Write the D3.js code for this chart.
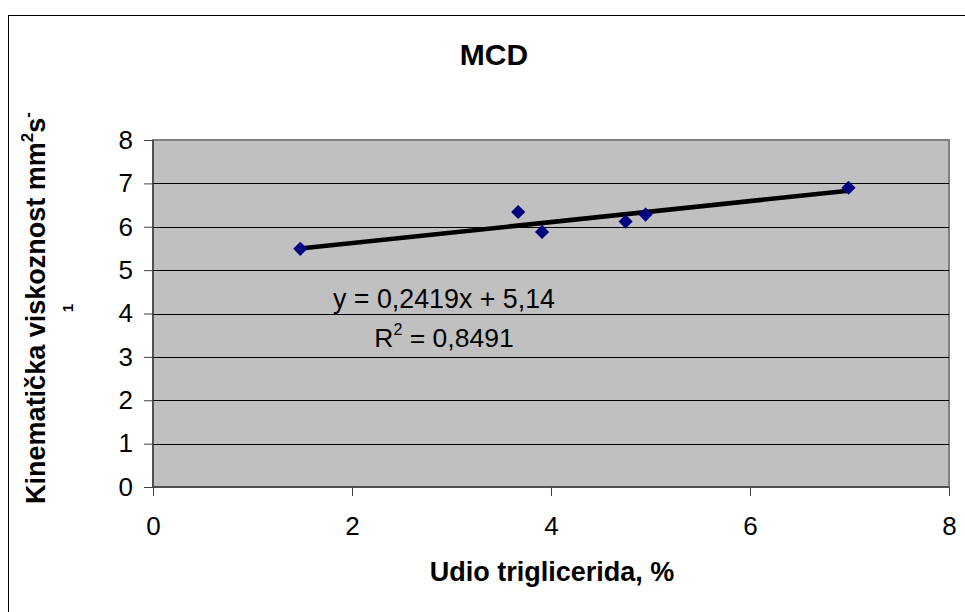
<!DOCTYPE html>
<html>
<head>
<meta charset="utf-8">
<script src="https://cdn.jsdelivr.net/npm/d3@7"></script>
<style>
  body { margin: 0; background: #fff; }
  text { font-family: "Liberation Sans", Arial, sans-serif; }
</style>
</head>
<body>
<svg width="965" height="612"></svg>
<script>
// data
var xVals = [1.48, 3.67, 3.91, 4.75, 4.95, 6.99];
var yVals = [5.49, 6.34, 5.88, 6.12, 6.28, 6.90];
var xTicks = [0, 2, 4, 6, 8];
var yTicks = [0, 1, 2, 3, 4, 5, 6, 7, 8];
var slope = 0.2419, intercept = 5.14;
var eqLines = ["y = 0,2419x + 5,14", "R", "2", " = 0,8491"];

var svg = d3.select("svg");

var margin = {left: 153, top: 140, right: 949, bottom: 487};

var x = d3.scaleLinear().domain([0, 8]).range([margin.left, margin.right]);
var y = d3.scaleLinear().domain([0, 8]).range([margin.bottom, margin.top]);

// chart area border
svg.append("rect")
  .attr("x", 8.5).attr("y", 15.5)
  .attr("width", 970).attr("height", 620)
  .attr("fill", "#fff").attr("stroke", "#000").attr("stroke-width", 1);

// plot area
svg.append("rect")
  .attr("x", x(0)).attr("y", y(8))
  .attr("width", x(8) - x(0)).attr("height", y(0) - y(8))
  .attr("fill", "#c0c0c0").attr("stroke", "#808080").attr("stroke-width", 2);

// gridlines
svg.append("g")
  .selectAll("line")
  .data(yTicks.filter(function(d) { return d > 0 && d < 8; }))
  .enter().append("line")
    .attr("x1", x(0)).attr("x2", x(8))
    .attr("y1", function(d) { return Math.round(y(d)) + 0.5; })
    .attr("y2", function(d) { return Math.round(y(d)) + 0.5; })
    .attr("stroke", "#000").attr("stroke-width", 1);

// axes
var yAxis = svg.append("g")
  .attr("transform", "translate(" + x(0) + ",0)")
  .call(d3.axisLeft(y).tickValues(yTicks).tickSize(9).tickPadding(11).tickFormat(d3.format("d")));
var xAxis = svg.append("g")
  .attr("transform", "translate(0," + y(0) + ")")
  .call(d3.axisBottom(x).tickValues(xTicks).tickSize(9).tickPadding(21).tickFormat(d3.format("d")));

[yAxis, xAxis].forEach(function(a) {
  a.select(".domain").attr("stroke", "#404040").attr("stroke-width", 1.5);
  a.selectAll(".tick line").attr("stroke", "#404040");
  a.selectAll(".tick text")
    .attr("font-family", "Liberation Sans, Arial, sans-serif")
    .attr("font-size", 26).attr("fill", "#000");
});
xAxis.select(".domain").attr("d", "M" + x(0) + ",0H" + x(8));
yAxis.select(".domain").attr("d", "M0," + y(0) + "V" + y(8));

// trend line
var x0 = d3.min(xVals), x1 = d3.max(xVals);
svg.append("line")
  .attr("x1", x(x0)).attr("y1", y(slope * x0 + intercept))
  .attr("x2", x(x1)).attr("y2", y(slope * x1 + intercept))
  .attr("stroke", "#000").attr("stroke-width", 4.5);

// markers
svg.append("g")
  .selectAll("path")
  .data(xVals)
  .enter().append("path")
    .attr("d", d3.symbol().type(d3.symbolDiamond2).size(128))
    .attr("transform", function(d, i) {
      return "translate(" + x(d) + "," + y(yVals[i]) + ")";
    })
    .attr("fill", "#000080");

// equation label
svg.append("text")
  .attr("x", 444).attr("y", 308)
  .attr("text-anchor", "middle").attr("font-size", 26.8)
  .text(eqLines[0]);
var r2 = svg.append("text")
  .attr("x", 444).attr("y", 347)
  .attr("text-anchor", "middle").attr("font-size", 26.5);
r2.append("tspan").text(eqLines[1]);
r2.append("tspan").attr("font-size", 16).attr("dy", -12).text(eqLines[2]);
r2.append("tspan").attr("dy", 12).text(eqLines[3]);

// title
svg.append("text")
  .attr("x", 494).attr("y", 65)
  .attr("text-anchor", "middle")
  .attr("font-size", 30).attr("font-weight", "bold")
  .text("MCD");

// x axis title
svg.append("text")
  .attr("x", 552).attr("y", 581)
  .attr("text-anchor", "middle")
  .attr("font-size", 27).attr("font-weight", "bold")
  .text("Udio triglicerida, %");

// y axis title (wrapped, two lines)
var yt = svg.append("text")
  .attr("transform", "translate(45,308) rotate(-90)")
  .attr("text-anchor", "middle")
  .attr("font-size", 27).attr("font-weight", "bold");
yt.append("tspan").text("Kinematička viskoznost mm");
yt.append("tspan").attr("font-size", 17).attr("dy", -12).text("2");
yt.append("tspan").attr("dy", 12).text("s");
yt.append("tspan").attr("font-size", 17).attr("dy", -12).text("-");

svg.append("text")
  .attr("transform", "translate(73,308) rotate(-90)")
  .attr("text-anchor", "middle")
  .attr("font-size", 15).attr("font-weight", "bold")
  .text("1");
</script>
</body>
</html>
